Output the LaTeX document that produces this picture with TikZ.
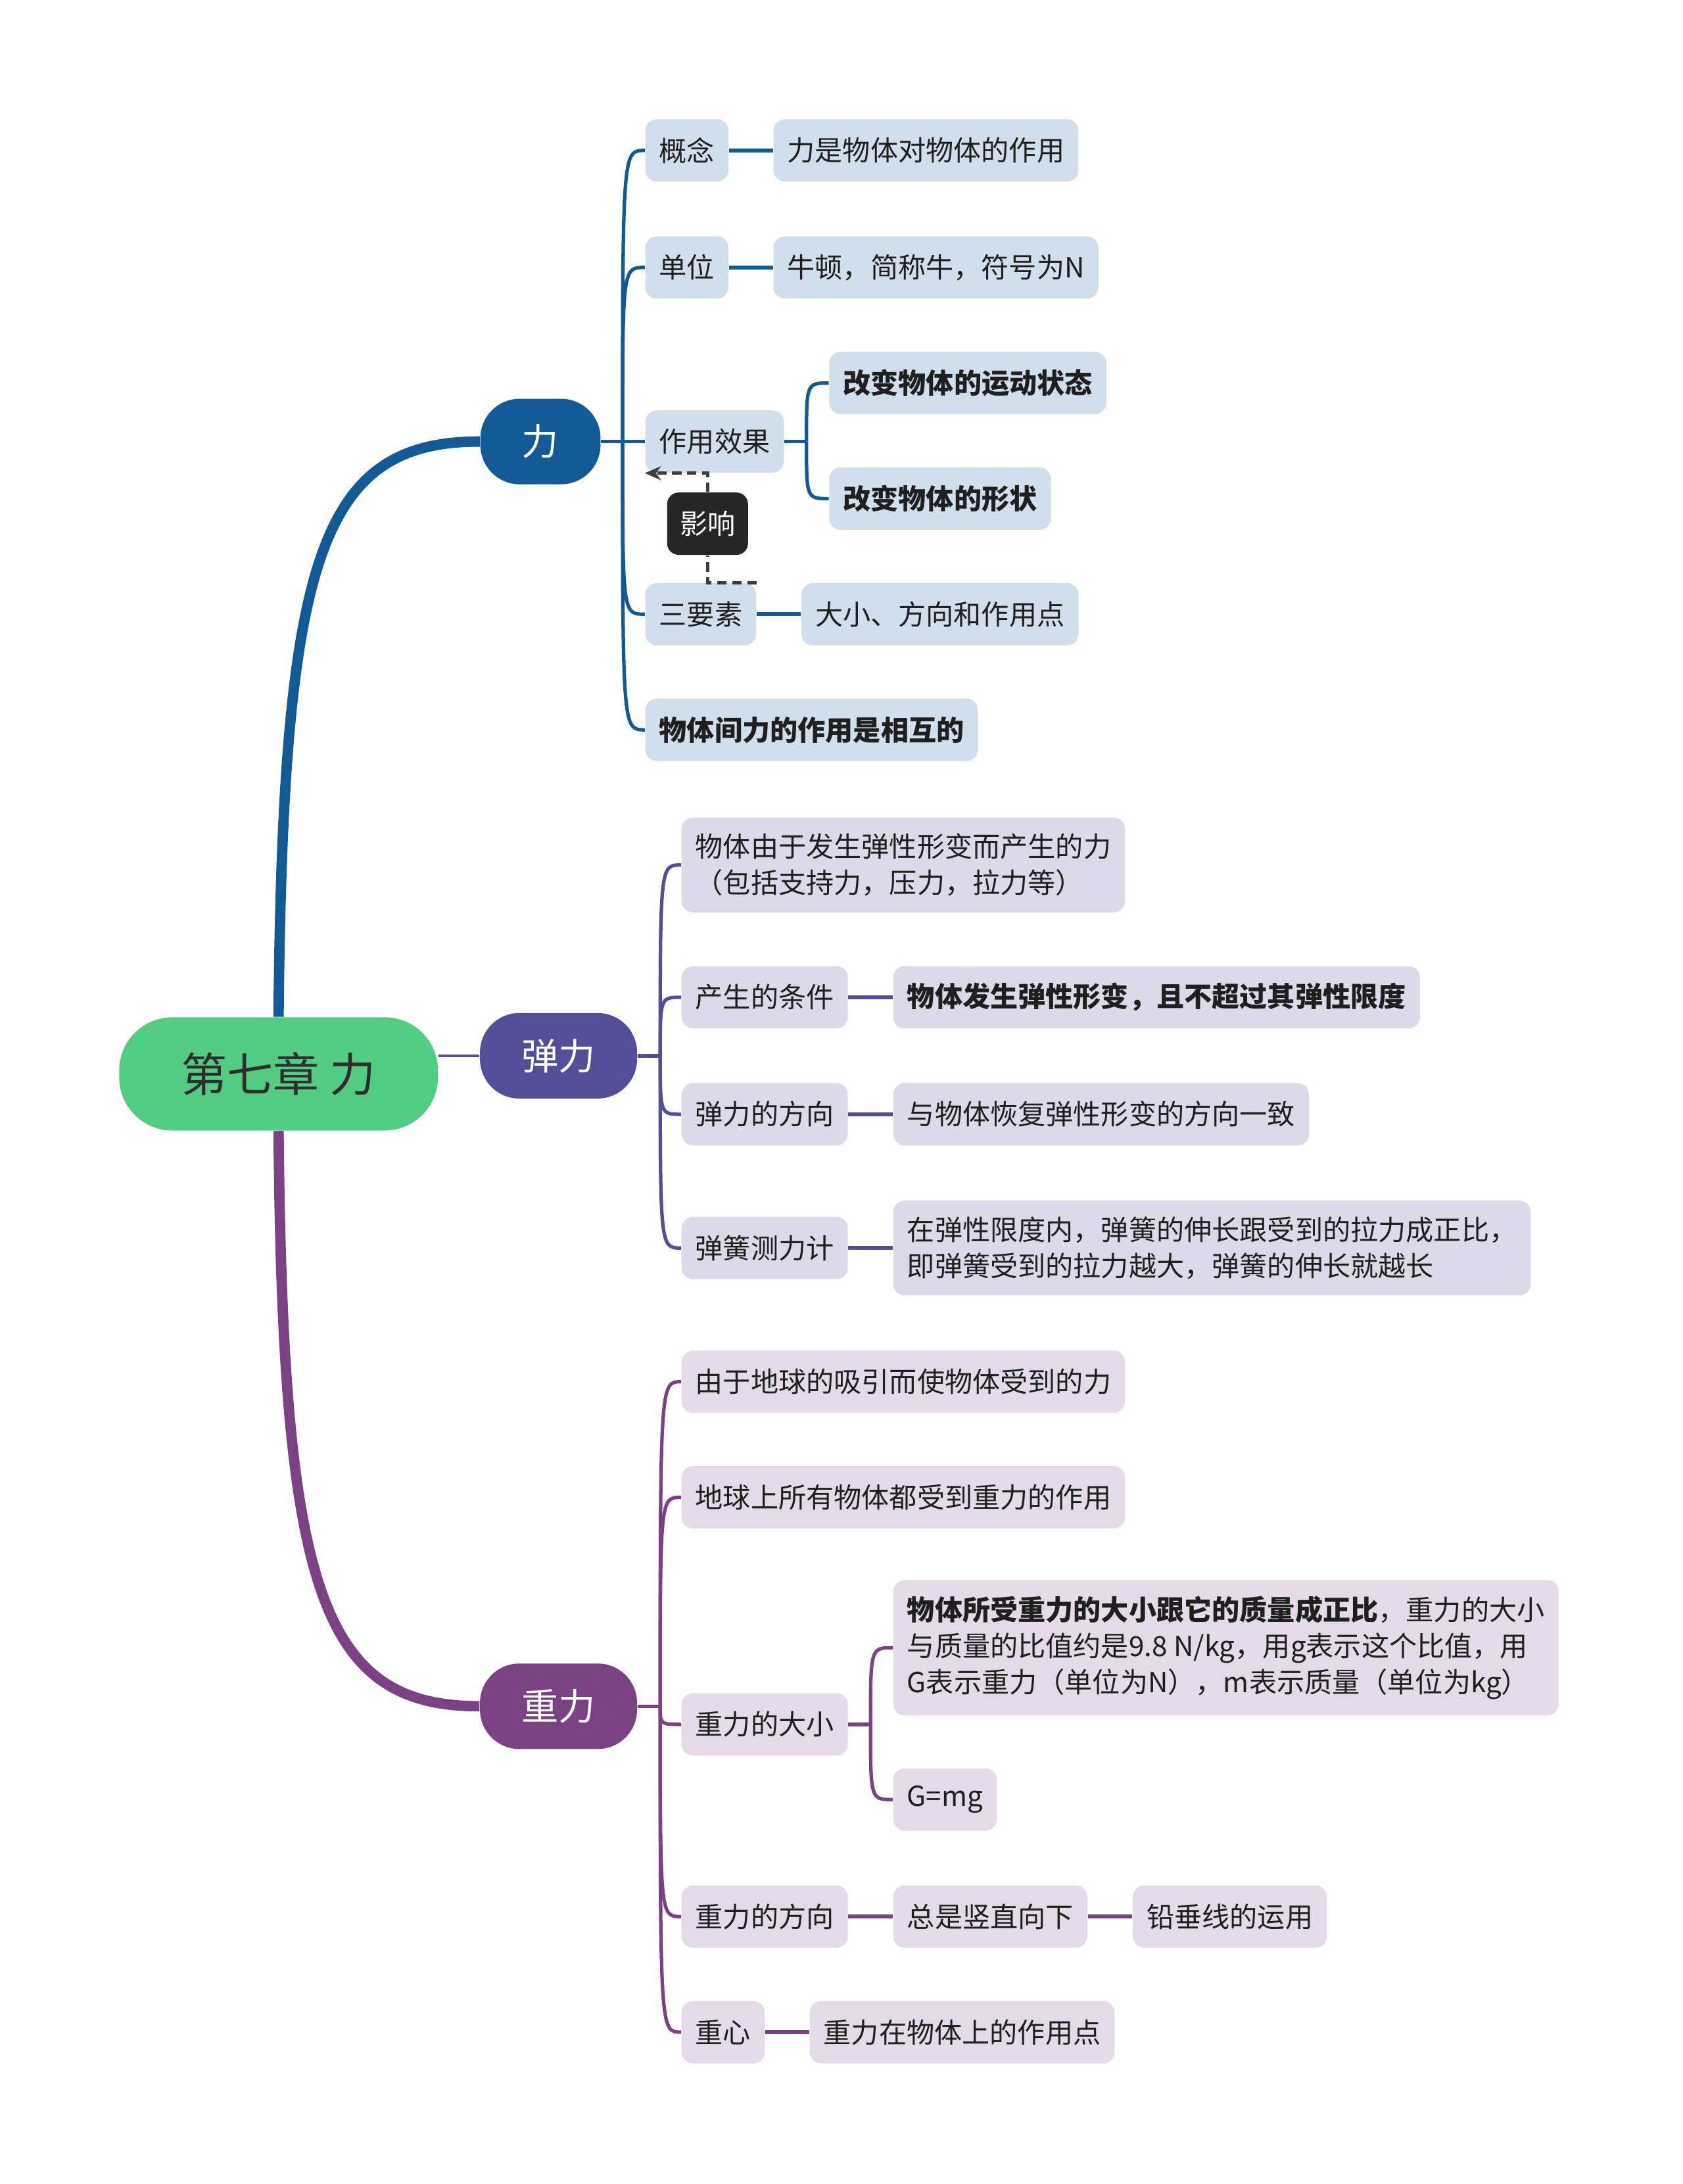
\documentclass[tikz,border=0pt]{standalone}
\usepackage{fontspec}
\setmainfont{Noto Sans CJK SC}
\usetikzlibrary{arrows.meta}

\definecolor{rootgreen}{HTML}{53CC83}
\definecolor{liblue}{HTML}{115A96}
\definecolor{libg}{HTML}{D0DFEB}
\definecolor{tanpurple}{HTML}{534E97}
\definecolor{tanbg}{HTML}{DCDAE9}
\definecolor{zhongpurple}{HTML}{7A4283}
\definecolor{zhongbg}{HTML}{E4DAE8}
\definecolor{darkbox}{HTML}{262626}

\tikzset{
  leaf/.style={rounded corners=5pt, anchor=west, inner xsep=6pt, inner ysep=7pt,
    minimum height=27pt, align=left, text=black!88, font=\fontsize{12}{15.6}\selectfont},
  lileaf/.style={leaf, fill=libg},
  tanleaf/.style={leaf, fill=tanbg},
  zhongleaf/.style={leaf, fill=zhongbg},
  topic/.style={rounded corners=17pt, text=white, minimum height=37pt,
    font=\fontsize{16}{16}\selectfont},
  trunk/.style={line width=4.5pt},
  branch/.style={line width=1.5pt},
  link/.style={line width=1.8pt},
  dashline/.style={dashed, dash pattern=on 4pt off 2.5pt, line width=1.5pt, darkbox!90}
}

\begin{document}
\begin{tikzpicture}[x=0.02119cm, y=-0.02119cm]
\fill[white] (0,0) rectangle (1208,1568);
\useasboundingbox (0,0) rectangle (1208,1568);

\node[rounded corners=23pt, fill=rootgreen, text=black!82, minimum width=138pt, minimum height=49pt,
  font=\fontsize{20}{20}\selectfont] (root) at (200,771) {第七章 力};
\node[topic, fill=liblue, minimum width=52pt] (li) at (388,317) {力};
\node[topic, fill=tanpurple, minimum width=68pt] (tan) at (401,758) {弹力};
\node[topic, fill=zhongpurple, minimum width=68pt] (zhong) at (401,1225) {重力};

\draw[trunk, liblue] (root.north) .. controls (203,400) and (230,317) .. (li.west);
\draw[trunk, zhongpurple] (root.south) .. controls (203,1140) and (230,1225) .. (zhong.west);
\draw[line width=1.3pt, tanpurple] (root.east |- tan.west) -- (tan.west);

% 力
\node[lileaf] (gn) at (463,108) {概念};
\node[lileaf] (gnd) at (555,108) {力是物体对物体的作用};
\node[lileaf] (dw) at (463,192) {单位};
\node[lileaf] (dwd) at (555,192) {牛顿，简称牛，符号为N};
\node[lileaf] (zy) at (463,317) {作用效果};
\node[lileaf, font=\fontsize{12}{15.6}\selectfont\bfseries] (zy1) at (595,275) {改变物体的运动状态};
\node[lileaf, font=\fontsize{12}{15.6}\selectfont\bfseries] (zy2) at (595,358) {改变物体的形状};
\node[lileaf] (sys) at (463,441) {三要素};
\node[lileaf] (sysd) at (575,441) {大小、方向和作用点};
\node[lileaf, font=\fontsize{12}{15.6}\selectfont\bfseries] (xh) at (463,524) {物体间力的作用是相互的};
\node[rounded corners=5pt, fill=darkbox, text=white, minimum width=35pt, minimum height=27pt,
  font=\fontsize{12}{15.6}\selectfont] (yx) at (508,376) {影响};

\coordinate (lij) at (447,317);
\draw[branch, liblue] (li.east) -- (lij);
\foreach \c in {gn,dw,zy,sys,xh}
  \draw[branch, liblue] (lij) .. controls (lij |- \c.west) .. (\c.west);
\draw[link, liblue] (gn) -- (gnd);
\draw[link, liblue] (dw) -- (dwd);
\draw[link, liblue] (sys) -- (sysd);
\coordinate (zyj) at (579,317);
\draw[branch, liblue] (zy.east) -- (zyj);
\foreach \c in {zy1,zy2}
  \draw[branch, liblue] (zyj) .. controls (zyj |- \c.west) .. (\c.west);

\draw[dashline] (sys.north east) -| (yx.south);
\draw[dashline, -{Stealth[length=7pt, width=6pt]}] (yx.north) |- (zy.south west);

% 弹力
\node[tanleaf] (t1) at (489,621) {物体由于发生弹性形变而产生的力\\（包括支持力，压力，拉力等）};
\node[tanleaf] (t2) at (489,716) {产生的条件};
\node[tanleaf, font=\fontsize{12}{15.6}\selectfont\bfseries] (t2d) at (641,716) {物体发生弹性形变，且不超过其弹性限度};
\node[tanleaf] (t3) at (489,800) {弹力的方向};
\node[tanleaf] (t3d) at (641,800) {与物体恢复弹性形变的方向一致};
\node[tanleaf] (t4) at (489,896) {弹簧测力计};
\node[tanleaf] (t4d) at (641,896) {在弹性限度内，弹簧的伸长跟受到的拉力成正比，\\即弹簧受到的拉力越大，弹簧的伸长就越长};

\coordinate (tanj) at (474,758);
\draw[branch, tanpurple] (tan.east) -- (tanj);
\foreach \c in {t1,t2,t3,t4}
  \draw[branch, tanpurple] (tanj) .. controls (tanj |- \c.west) .. (\c.west);
\draw[link, tanpurple] (t2) -- (t2d);
\draw[link, tanpurple] (t3) -- (t3d);
\draw[link, tanpurple] (t4) -- (t4d);

% 重力
\node[zhongleaf] (z1) at (489,992) {由于地球的吸引而使物体受到的力};
\node[zhongleaf] (z2) at (489,1075) {地球上所有物体都受到重力的作用};
\node[zhongleaf] (z3) at (489,1238) {重力的大小};
\node[zhongleaf] (z3a) at (641,1183) {\textbf{物体所受重力的大小跟它的质量成正比}，重力的大小\\与质量的比值约是9.8 N/kg，用g表示这个比值，用\\G表示重力（单位为N），m表示质量（单位为kg）};
\node[zhongleaf] (z3b) at (641,1292) {G=mg};
\node[zhongleaf] (z4) at (489,1376) {重力的方向};
\node[zhongleaf] (z4d) at (641,1376) {总是竖直向下};
\node[zhongleaf] (z4e) at (813,1376) {铅垂线的运用};
\node[zhongleaf] (z5) at (489,1459) {重心};
\node[zhongleaf] (z5d) at (581,1459) {重力在物体上的作用点};

\coordinate (zhj) at (474,1225);
\draw[branch, zhongpurple] (zhong.east) -- (zhj);
\foreach \c in {z1,z2,z3,z4,z5}
  \draw[branch, zhongpurple] (zhj) .. controls (zhj |- \c.west) .. (\c.west);
\coordinate (z3j) at (625,1238);
\draw[branch, zhongpurple] (z3.east) -- (z3j);
\foreach \c in {z3a,z3b}
  \draw[branch, zhongpurple] (z3j) .. controls (z3j |- \c.west) .. (\c.west);
\draw[link, zhongpurple] (z4) -- (z4d);
\draw[link, zhongpurple] (z4d) -- (z4e);
\draw[link, zhongpurple] (z5) -- (z5d);
\end{tikzpicture}
\end{document}
